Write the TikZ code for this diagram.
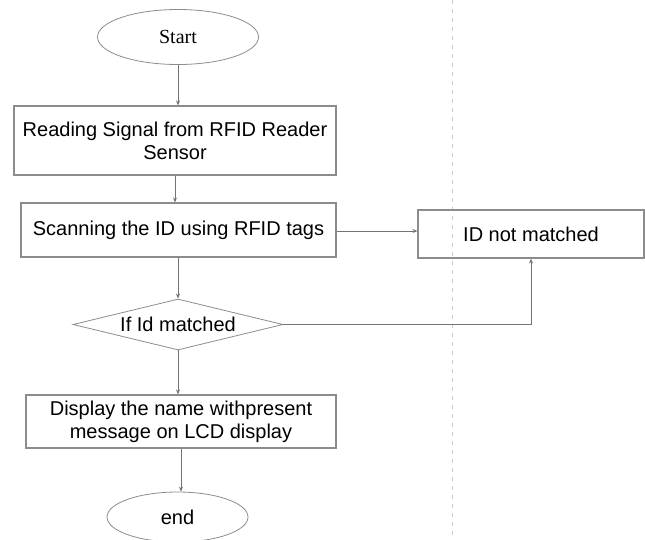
\documentclass[tikz,border=0pt]{standalone}
\usepackage{fontspec}
\setmainfont{Liberation Sans}
\newfontfamily\startfont{Liberation Serif}
\usetikzlibrary{positioning,shapes.geometric,arrows.meta}

\begin{document}
\begin{tikzpicture}[
    x=1pt, y=-1pt,
    terminal/.style={ellipse, draw=gray!90, line width=0.8pt, minimum width=161pt, minimum height=55pt, inner sep=0pt},
    process/.style={rectangle, draw=gray!90, line width=1.2pt, align=center, font=\fontsize{20}{23}\selectfont, inner sep=0pt},
    decision/.style={diamond, draw=gray!90, line width=0.8pt, aspect=4.1, minimum width=210pt, minimum height=51pt, inner sep=0pt, font=\fontsize{20}{23}\selectfont},
    flow/.style={-{Stealth[length=5pt,width=4pt]}, draw=gray!110, line width=0.7pt}
]
    \clip (0,0) rectangle (645,539);
    \useasboundingbox (0,0) rectangle (645,539);

    % Divider
    \draw [gray!40, line width=1pt, dash pattern=on 4pt off 5pt] (452,0) -- (452,539);

    % Main column
    \node [terminal, font=\startfont\fontsize{20}{22}\selectfont] (start) at (178,37) {Start};
    \node [process, minimum width=322pt, minimum height=69pt] (read) at (175,140.5) {Reading Signal from RFID Reader\\Sensor};
    \node [process, minimum width=315pt, minimum height=54pt] (scan) at (178.5,230) {Scanning the ID using RFID tags};
    \node [decision] (check) at (178,324.5) {If Id matched};
    \node [process, minimum width=310pt, minimum height=53pt] (show) at (181,421.5) {Display the name withpresent\\message on LCD display};
    \node [terminal, font=\fontsize{20}{23}\selectfont, minimum width=141pt, minimum height=50pt] (stop) at (177.5,517) {end};

    % Side branch
    \node [process, minimum width=226pt, minimum height=48pt] (fail) at (531,234) {ID not matched};

    % Connections
    \draw [flow] (start.south) -- (start.south |- read.north);
    \draw [flow] (read.south) -- (read.south |- scan.north);
    \draw [flow] (scan.south -| check.north) -- (check.north);
    \draw [flow] (check.south) -- (check.south |- show.north);
    \draw [flow] (show.south) -- (show.south |- stop.north);
    \draw [flow] (scan.east |- 0,231) -- (fail.west |- 0,231);
    \draw [flow] (check.east) -| (fail.south);
\end{tikzpicture}
\end{document}
